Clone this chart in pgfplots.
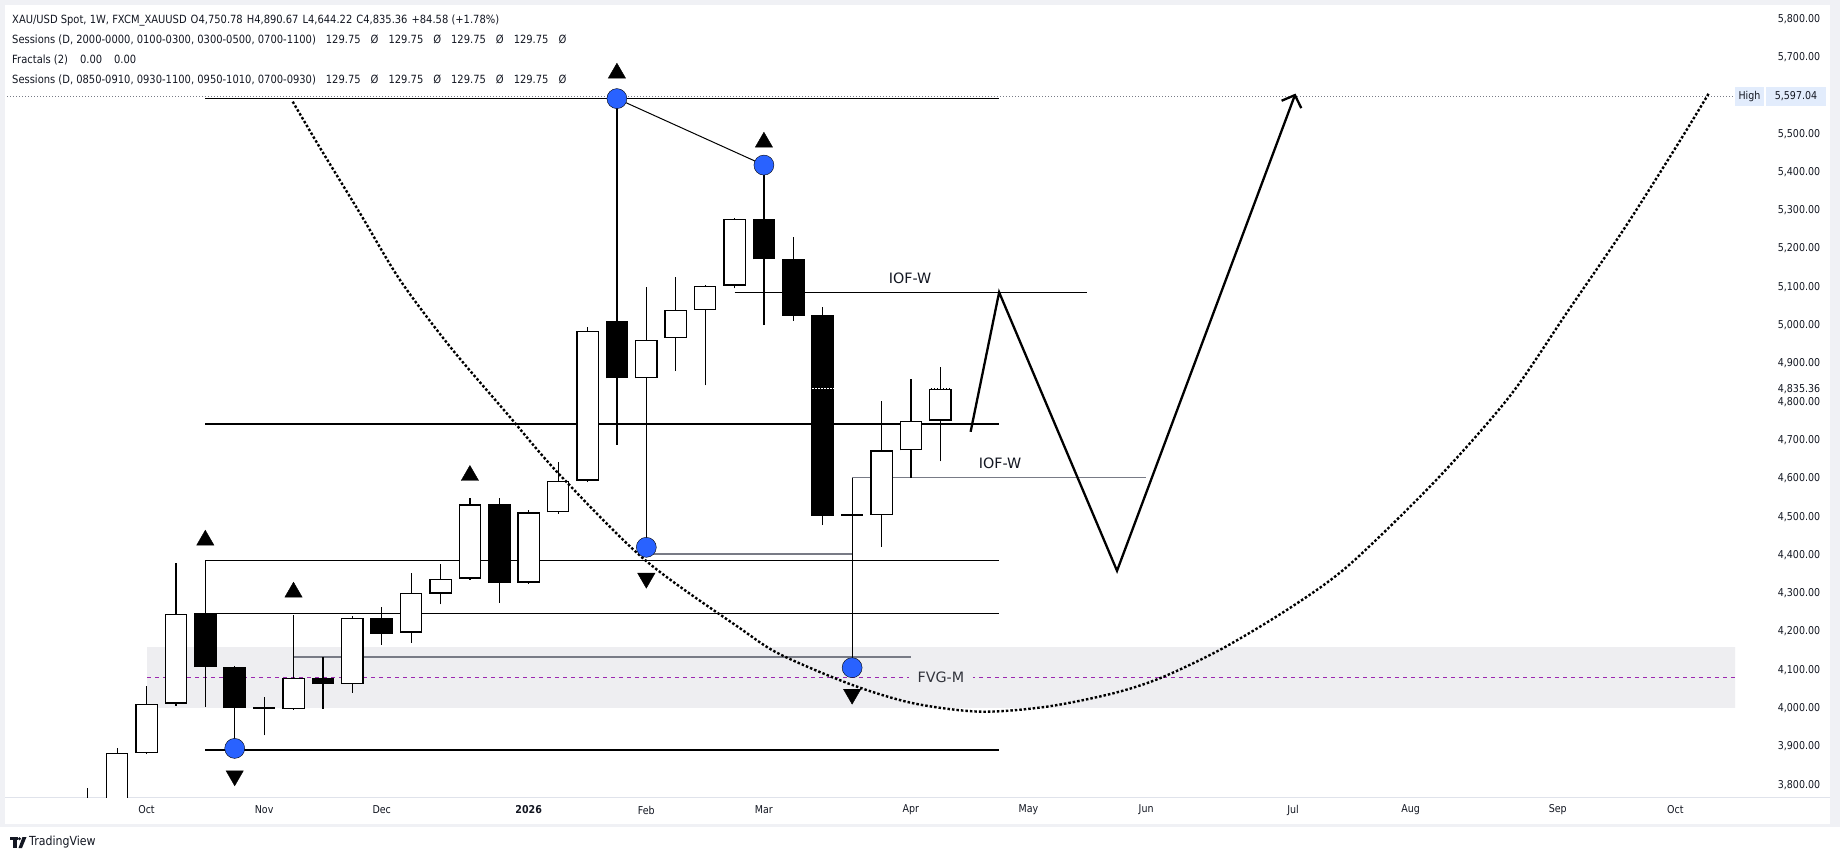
\documentclass[border=0pt]{standalone}
\usepackage{fontspec}
\setmainfont{DejaVu Sans}
\newfontfamily\uifont{DejaVu Sans}[FakeStretch=0.88]
\usepackage{pgfplots}
\pgfplotsset{compat=1.18}
\usepackage{pgfplotstable}
\usetikzlibrary{arrows.meta}

\definecolor{tvblue}{RGB}{41,98,255}
\definecolor{fvgbox}{RGB}{238,238,241}
\definecolor{fvgmid}{RGB}{156,39,176}
\definecolor{tvgray}{RGB}{120,123,134}
\definecolor{framebg}{RGB}{240,241,245}
\definecolor{sepline}{RGB}{224,227,235}
\definecolor{txt}{RGB}{19,23,34}
\definecolor{hilab}{RGB}{226,236,252}
\newcommand{\tickf}{\uifont\fontsize{10.8}{13}\selectfont}
\newcommand{\headf}{\uifont\fontsize{11.3}{13}\selectfont}
\newcommand{\labf}{\fontsize{14.3}{16}\selectfont}

% weekly candles: i = weeks after 6 Oct 2025
\pgfplotstableread{
i O H L C
-2 3700 3792 3690 3760
-1 3740 3896 3720 3883
0 3883 4059 3880 4012
1 4012 4378 4006 4247
2 4248 4386 4003 4107
3 4108 4110 3891 4000
4 4003 4030 3929 3998
5 3998 4244 3996 4079
6 4079 4134 3998 4063
7 4063 4240 4040 4236
8 4236 4265 4165 4194
9 4197 4354 4171 4302
10 4299 4376 4271 4338
11 4338 4550 4335 4532
12 4532 4550 4275 4327
13 4328 4518 4325 4511
14 4511 4644 4508 4594
15 4594 4995 4590 4985
16 5011 5597 4688 4861
17 4861 5100 4403 4961
18 4967 5126 4880 5040
19 5040 5105 4843 5103
20 5103 5280 5096 5278
21 5278 5420 5000 5172
22 5172 5231 5011 5024
23 5026 5047 4478 4502
24 4507 4602 4100 4502
25 4505 4801 4421 4673
26 4673 4860 4601 4751
27 4750.78 4890.67 4644.22 4835.36
}\candles

\pgfplotstableread{
i lo hi
-2 3700 3760
-1 3740 3883
0 3883 4012
1 4012 4247
5 3998 4079
7 4063 4236
9 4197 4302
10 4299 4338
11 4338 4532
13 4328 4511
14 4511 4594
15 4594 4985
17 4861 4961
18 4967 5040
19 5040 5103
20 5103 5278
25 4505 4673
26 4673 4751
27 4750.78 4835.36
}\bull

\pgfplotstableread{
i lo hi
2 4107 4248
3 4000 4108
4 3998 4003
6 4063 4079
8 4194 4236
12 4327 4532
16 4861 5011
21 5172 5278
22 5024 5172
23 4502 5026
24 4502 4507
}\bear

\pgfplotstableread{
i P
4.973 5583.6
5.878 5466.1
7.262 5292.2
8.622 5118.0
10.323 4943.9
12.252 4770.0
14.007 4613.3
16.956 4386.9
20.187 4208.6
21.548 4140.7
24.007 4060.6
26.082 4012.8
28.350 3990.9
30.619 4003.9
32.884 4038.9
34.524 4079.9
36.616 4156.7
38.983 4266.3
40.935 4376.0
43.861 4595.3
46.371 4814.9
48.323 5034.2
50.276 5253.8
52.088 5473.1
53.133 5604.7
}\curve

\begin{document}
\begin{tikzpicture}[x=1pt,y=1pt]
\useasboundingbox (0,0) rectangle (1840,860);
\fill[white] (0,0) rectangle (1840,860);
% frame
\fill[framebg] (0,855) rectangle (1840,860);
\fill[framebg] (0,34) rectangle (5,860);
\fill[framebg] (1830,34) rectangle (1840,860);
\fill[framebg] (0,33) rectangle (1840,36);
\draw[sepline, line width=1pt] (5,63) -- (1830,63);

\begin{axis}[
  at={(7pt,63pt)}, anchor=south west,
  scale only axis, width=1728pt, height=790pt,
  xmin=-4.745, xmax=54.03, ymin=3768.1, ymax=5830.8,
  axis line style={draw=none},
  tick style={draw=none},
  major tick length=0pt,
  scaled y ticks=false,
  xtick={0,4,8,13,17,21,26,30,34,39,43,48,52},
  xticklabels={Oct,Nov,Dec,\textbf{2026},Feb,Mar,Apr,May,Jun,Jul,Aug,Sep,Oct},
  xticklabel style={anchor=center, yshift=-13pt, font=\tickf, text=txt},
  ytick={3800,3900,...,5500,5700,5800},
  yticklabel pos=right,
  yticklabel style={anchor=center, xshift=64pt, font=\tickf, text=txt,
    /pgf/number format/.cd, fixed, fixed zerofill, precision=2, 1000 sep={,}, assume math mode=true},
  clip=true,
]
% FVG box
\addplot[draw=none, fill=fvgbox, forget plot] coordinates {(0.02,4001) (54.1,4001) (54.1,4160) (0.02,4160)} -- cycle;
\addplot[fvgmid, line width=1pt, dash pattern=on 4pt off 4pt] coordinates {(0.02,4080.5) (54.1,4080.5)};
% High dotted
\addplot[tvgray, line width=0.9pt, dash pattern=on 1pt off 2pt] coordinates {(-4.745,5597.04) (54.03,5597.04)};
% horizontal levels
\addplot[black, line width=1.4pt] coordinates {(2,5592) (29,5592)};
\addplot[black, line width=1.4pt] coordinates {(2,4742) (29,4742)};
\addplot[black, line width=1.4pt] coordinates {(2,4386) (29,4386)};
\addplot[black, line width=1.4pt] coordinates {(2,4248) (29,4248)};
\addplot[black, line width=1.4pt] coordinates {(2,3891) (29,3891)};
\addplot[tvgray, line width=1.8pt] coordinates {(5,4134.5) (26,4134.5)};
\addplot[tvgray, line width=1.8pt] coordinates {(17,4402.6) (24,4402.6)};
\addplot[black, line width=1.4pt] coordinates {(20,5086) (32,5086)};
\addplot[tvgray, line width=1.6pt] coordinates {(24,4602) (34,4602)};
% wicks
\addplot[draw=none, no markers, error bars/.cd, y dir=plus, y explicit, error mark=none,
  error bar style={line width=1.2pt, draw=black}]
  table[x=i, y=L, y error plus expr={\thisrow{H}-\thisrow{L}}] {\candles};
% bodies
\addplot[draw=none, no markers, error bars/.cd, y dir=plus, y explicit, error mark=none,
  error bar style={line width=22.5pt, draw=black}]
  table[x=i, y=lo, y error plus expr={\thisrow{hi}-\thisrow{lo}}] {\bull};
\addplot[draw=none, no markers, error bars/.cd, y dir=plus, y explicit, error mark=none,
  error bar style={line width=20pt, draw=white}]
  table[x=i, y expr={\thisrow{lo}+3.3}, y error plus expr={\thisrow{hi}-\thisrow{lo}-6.6}] {\bull};
\addplot[draw=none, no markers, error bars/.cd, y dir=plus, y explicit, error mark=none,
  error bar style={line width=22.5pt, draw=black}]
  table[x=i, y=lo, y error plus expr={\thisrow{hi}-\thisrow{lo}}] {\bear};
% price line pieces
\addplot[white, line width=1.2pt, dash pattern=on 1.5pt off 1.5pt] coordinates {(22.64,4835.36) (23.36,4835.36)};
\addplot[white, line width=1.2pt, dash pattern=on 1.5pt off 1.5pt] coordinates {(26.62,4835.36) (27.38,4835.36)};
% connector
\addplot[black, line width=1pt] coordinates {(16,5591.6) (21,5418)};
% fractal dots
\addplot[only marks, mark=*, mark size=10pt, mark options={fill=tvblue, draw=none}]
  coordinates {(3,3895) (16,5591.6) (21,5418) (17,4420) (24,4105.7)};
% fractal triangles
\addplot[only marks, mark=triangle*, mark size=10pt, mark options={fill=black, draw=none}]
  coordinates {(2,4438.6) (5,4302.9) (11,4607.6) (16,5658) (21,5477.8)};
\addplot[only marks, mark=triangle*, mark size=10pt, mark options={fill=black, draw=none, rotate=180}]
  coordinates {(3,3823.5) (17,4339.4) (24,4036.5)};
% arc
\addplot[black, line width=2.4pt, dash pattern=on 2.5pt off 2pt, smooth] table[x=i, y=P] {\curve};
% projected path
\addplot[black, line width=2.3pt, -{Straight Barb[length=10pt,width=21pt]}]
  coordinates {(28.03,4721.7) (29.0,5085.9) (33.01,4358.7) (39.08,5604.7)};
% labels
\node[font=\labf, text=txt] at (axis cs:25.97,5122.5) {IOF-W};
\node[font=\labf, text=txt] at (axis cs:29.03,4639.4) {IOF-W};
\node[font=\labf, text={rgb,255:red,50;green,52;blue,60}, fill=fvgbox, inner xsep=9pt, inner ysep=1pt] at (axis cs:27.02,4081) {FVG-M};
\end{axis}

% header
\node[anchor=base west, font=\headf, text=txt, inner sep=0] at (12,836) {XAU/USD Spot, 1W, FXCM\_XAUUSD\hspace{4pt}O4,750.78\hspace{4pt}H4,890.67\hspace{4pt}L4,644.22\hspace{4pt}C4,835.36\hspace{4pt}+84.58 (+1.78\%)};
\node[anchor=base west, font=\headf, text=txt, inner sep=0] at (12,816) {Sessions (D, 2000-0000, 0100-0300, 0300-0500, 0700-1100)\hspace{10pt}129.75\hspace{10pt}Ø\hspace{10pt}129.75\hspace{10pt}Ø\hspace{10pt}129.75\hspace{10pt}Ø\hspace{10pt}129.75\hspace{10pt}Ø};
\node[anchor=base west, font=\headf, text=txt, inner sep=0] at (12,796) {Fractals (2)\hspace{12pt}0.00\hspace{12pt}0.00};
\node[anchor=base west, font=\headf, text=txt, inner sep=0] at (12,776.5) {Sessions (D, 0850-0910, 0930-1100, 0950-1010, 0700-0930)\hspace{10pt}129.75\hspace{10pt}Ø\hspace{10pt}129.75\hspace{10pt}Ø\hspace{10pt}129.75\hspace{10pt}Ø\hspace{10pt}129.75\hspace{10pt}Ø};

% price scale extras
\fill[hilab] (1735,754) rectangle (1764,773);
\fill[hilab] (1766,754) rectangle (1826,773);
\node[font=\tickf, text=txt] at (1749.5,763.5) {High};
\node[font=\tickf, text=txt] at (1796,763.5) {5,597.04};
\node[font=\tickf, text=txt] at (1799,471) {4,835.36};

% TradingView logo
\fill[txt] (10,20) rectangle (17.5,23);
\fill[txt] (13,12) rectangle (16.5,23);
\fill[txt] (19.5,21.2) circle (1.6);
\fill[txt] (22.5,23) -- (26.5,23) -- (22,12) -- (18.5,12) -- cycle;
\node[anchor=west, font=\uifont\fontsize{12.5}{14}\selectfont, text=txt, inner sep=0] at (29,17.5) {TradingView};
\end{tikzpicture}
\end{document}
